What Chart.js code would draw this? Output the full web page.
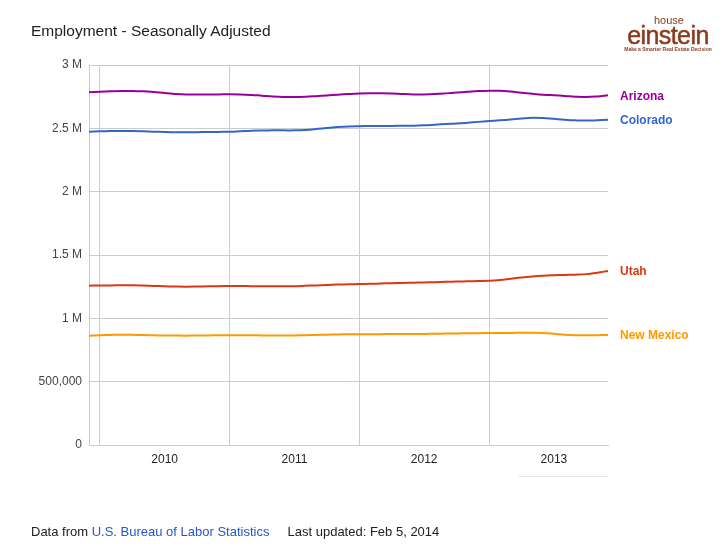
<!DOCTYPE html>
<html>
<head>
<meta charset="utf-8">
<script src="https://cdn.jsdelivr.net/npm/chart.js@4/dist/chart.umd.min.js"></script>
<style>
  html, body { margin: 0; padding: 0; background: #fff; }
  #wrap { position: relative; width: 728px; height: 544px; font-family: "Liberation Sans", Arial, sans-serif; overflow: hidden; }
  #cv { position: absolute; left: 0; top: 0; }
  #title { position: absolute; left: 31px; top: 22px; font-size: 15.5px; color: #222; white-space: nowrap; }
  #footer { position: absolute; left: 31px; top: 524px; font-size: 13px; color: #222; white-space: nowrap; }
  #footer .src { color: #2a55c4; }
  #logo { position: absolute; left: 624px; top: 16px; width: 88px; color: #8a3b1f; text-align: center; }
  #logo .h { font-size: 11px; line-height: 9px; margin-left: 2px; }
  #logo .e { font-size: 25px; line-height: 21px; letter-spacing: -0.6px; -webkit-text-stroke: 0.5px #8a3b1f; }
  #logo .t { font-size: 5px; line-height: 6px; font-weight: bold; }
  #scrollmark { position: absolute; left: 518px; top: 476px; width: 90px; height: 1px; background: #e8e8e8; }
</style>
</head>
<body>
<div id="wrap">
  <canvas id="cv" width="728" height="544"></canvas>
  <div id="title">Employment - Seasonally Adjusted</div>
  <div id="logo"><div class="h">house</div><div class="e">einstein</div><div class="t">Make a Smarter Real Estate Decision</div></div>
  <div id="scrollmark"></div>
  <div id="footer">Data from <span class="src">U.S. Bureau of Labor Statistics</span>&nbsp;&nbsp;&nbsp;&nbsp; Last updated: Feb 5, 2014</div>
</div>
<script>
// Months: Dec 2009 .. Dec 2013
const months = [
  "2009-12",
  "2010-01","2010-02","2010-03","2010-04","2010-05","2010-06","2010-07","2010-08","2010-09","2010-10","2010-11","2010-12",
  "2011-01","2011-02","2011-03","2011-04","2011-05","2011-06","2011-07","2011-08","2011-09","2011-10","2011-11","2011-12",
  "2012-01","2012-02","2012-03","2012-04","2012-05","2012-06","2012-07","2012-08","2012-09","2012-10","2012-11","2012-12",
  "2013-01","2013-02","2013-03","2013-04","2013-05","2013-06","2013-07","2013-08","2013-09","2013-10","2013-11","2013-12"
];

// Employment, millions
const arizona = [2.785,2.788,2.792,2.795,2.795,2.792,2.786,2.778,2.772,2.768,2.767,2.767,2.768,
  2.769,2.768,2.764,2.758,2.752,2.748,2.747,2.749,2.754,2.760,2.766,2.771,
  2.775,2.777,2.777,2.775,2.771,2.768,2.768,2.771,2.776,2.782,2.788,2.794,
  2.797,2.797,2.790,2.781,2.773,2.766,2.761,2.756,2.750,2.747,2.752,2.761];
const colorado = [2.473,2.476,2.478,2.479,2.479,2.477,2.474,2.471,2.469,2.469,2.470,2.471,2.472,
  2.473,2.477,2.481,2.483,2.484,2.484,2.484,2.487,2.494,2.503,2.510,2.515,
  2.517,2.518,2.519,2.519,2.520,2.521,2.524,2.529,2.534,2.538,2.544,2.551,
  2.557,2.563,2.570,2.578,2.584,2.582,2.575,2.568,2.563,2.561,2.564,2.568];
const utah = [1.258,1.259,1.260,1.261,1.261,1.259,1.256,1.253,1.251,1.250,1.251,1.253,1.254,
  1.255,1.255,1.254,1.253,1.253,1.253,1.254,1.257,1.260,1.264,1.267,1.269,
  1.271,1.273,1.275,1.277,1.279,1.281,1.283,1.285,1.288,1.290,1.292,1.294,
  1.296,1.302,1.312,1.322,1.330,1.336,1.340,1.343,1.345,1.349,1.360,1.374];
const newMexico = [0.863,0.866,0.869,0.871,0.870,0.868,0.866,0.865,0.864,0.863,0.864,0.865,0.866,
  0.866,0.866,0.866,0.865,0.864,0.864,0.865,0.867,0.869,0.871,0.873,0.874,
  0.874,0.875,0.875,0.876,0.876,0.876,0.877,0.878,0.880,0.881,0.882,0.883,
  0.884,0.884,0.885,0.886,0.887,0.884,0.878,0.871,0.867,0.866,0.867,0.868];

const seriesNames = ["Arizona","Colorado","Utah","New Mexico"];
const seriesColors = ["#990099","#3366cc","#dc3912","#ff9900"];
const yTickValues = [0, 0.5, 1, 1.5, 2, 2.5, 3];
const yTickLabels = ["0","500,000","1 M","1.5 M","2 M","2.5 M","3 M"];

const seriesData = [arizona, colorado, utah, newMexico];

const endLabels = {
  id: 'endLabels',
  afterDatasetsDraw(chart) {
    const ctx = chart.ctx;
    ctx.save();
    ctx.font = 'bold 12px "Liberation Sans", Arial, sans-serif';
    ctx.textAlign = 'left';
    ctx.textBaseline = 'middle';
    chart.data.datasets.forEach((ds, i) => {
      const meta = chart.getDatasetMeta(i);
      const pt = meta.data[meta.data.length - 1];
      ctx.fillStyle = ds.borderColor;
      ctx.fillText(ds.label, chart.chartArea.right + 12, pt.y + 1);
    });
    ctx.restore();
  }
};

new Chart(document.getElementById('cv'), {
  type: 'line',
  data: {
    labels: months,
    datasets: seriesData.map((d, i) => ({
      label: seriesNames[i],
      data: d,
      borderColor: seriesColors[i],
      backgroundColor: seriesColors[i],
      borderWidth: 2,
      pointRadius: 0,
      pointHoverRadius: 0,
      tension: 0.4,
      fill: false
    }))
  },
  options: {
    responsive: false,
    animation: false,
    events: [],
    layout: { padding: { top: 65, right: 120, bottom: 0, left: 0 } },
    plugins: { legend: { display: false }, tooltip: { enabled: false }, title: { display: false } },
    scales: {
      x: {
        type: 'category',
        offset: false,
        afterFit(scale) { scale.height = 99; },
        border: { display: true, color: '#cccccc' },
        grid: {
          drawTicks: false,
          color(c) { return (c.index % 12 === 1 || c.index === 0) ? '#cccccc' : 'rgba(0,0,0,0)'; },
          lineWidth: 1
        },
        ticks: {
          autoSkip: false,
          maxRotation: 0,
          padding: 7,
          color: '#222',
          font: { family: '"Liberation Sans", Arial, sans-serif', size: 12 },
          callback(value) {
            const lab = this.getLabelForValue(value);
            return lab.endsWith('-07') ? lab.slice(0, 4) : '';
          }
        }
      },
      y: {
        min: 0,
        max: 3,
        afterFit(scale) { scale.width = 89; },
        afterBuildTicks(scale) { scale.ticks = yTickValues.map(v => ({ value: v })); },
        border: { display: false },
        grid: { drawTicks: false, color: '#cccccc', lineWidth: 1 },
        ticks: {
          padding: 7,
          color: '#444',
          font: { family: '"Liberation Sans", Arial, sans-serif', size: 12 },
          callback(value) {
            const k = yTickValues.indexOf(value);
            return k >= 0 ? yTickLabels[k] : '';
          }
        }
      }
    }
  },
  plugins: [endLabels]
});
</script>
</body>
</html>
